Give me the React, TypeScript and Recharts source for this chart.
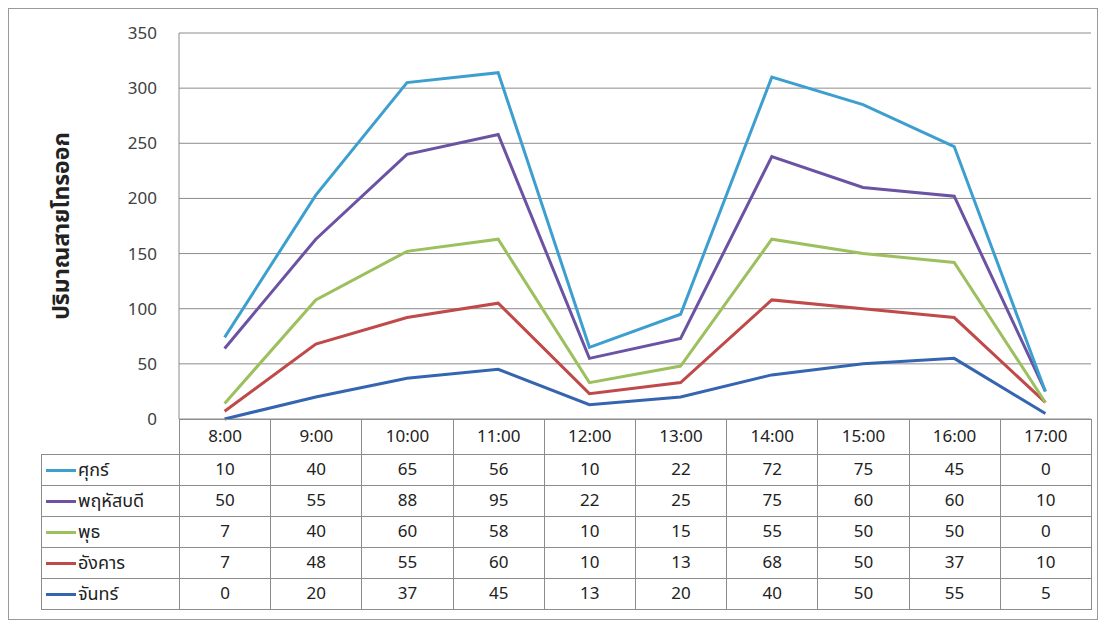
import { ComposedChart, Area, XAxis, YAxis, CartesianGrid, Label } from "recharts";

const hours = ["8:00", "9:00", "10:00", "11:00", "12:00", "13:00", "14:00", "15:00", "16:00", "17:00"];
const mon = [0, 20, 37, 45, 13, 20, 40, 50, 55, 5];
const tue = [7, 48, 55, 60, 10, 13, 68, 50, 37, 10];
const wed = [7, 40, 60, 58, 10, 15, 55, 50, 50, 0];
const thu = [50, 55, 88, 95, 22, 25, 75, 60, 60, 10];
const fri = [10, 40, 65, 56, 10, 22, 72, 75, 45, 0];
const yTicks = [0, 50, 100, 150, 200, 250, 300, 350];

// stacking order, bottom line first
const series = [
  { key: "mon", name: "จันทร์", color: "#3565b0", values: mon },
  { key: "tue", name: "อังคาร", color: "#c0494a", values: tue },
  { key: "wed", name: "พุธ", color: "#9cc05e", values: wed },
  { key: "thu", name: "พฤหัสบดี", color: "#6b52a3", values: thu },
  { key: "fri", name: "ศุกร์", color: "#3d9fd0", values: fri },
];

const data = hours.map((h, i) => {
  const row: Record<string, string | number> = { hour: h };
  series.forEach((s) => (row[s.key] = s.values[i]));
  return row;
});

const FONT = "'Noto Sans Thai', 'Noto Sans', 'Open Sans', sans-serif";
const W = 1090;
const PLOT_LEFT = 170;
const PLOT_RIGHT = 8;
const COL_W = (W - PLOT_LEFT - PLOT_RIGHT) / hours.length;
const GRID = "#8c8c8c";

const cell: React.CSSProperties = {
  border: `1px solid ${GRID}`,
  textAlign: "center",
  padding: 0,
  fontSize: 17,
  color: "#222",
};

export default function App() {
  const tableRows = [...series].reverse();
  return (
    <div
      style={{
        position: "relative",
        width: W,
        height: 612,
        border: "1px solid #9a9a9a",
        background: "#fff",
        fontFamily: FONT,
        boxSizing: "border-box",
      }}
    >
      <ComposedChart
        width={W}
        height={430}
        data={data}
        margin={{ top: 24, right: PLOT_RIGHT, bottom: 20, left: 0 }}
      >
        <CartesianGrid vertical={false} stroke={GRID} />
        <XAxis dataKey="hour" scale="band" hide />
        <YAxis
          width={PLOT_LEFT}
          domain={[0, 350]}
          ticks={yTicks}
          interval={0}
          tickLine={false}
          tickSize={0}
          tickMargin={22}
          axisLine={{ stroke: GRID }}
          tick={{ fontSize: 17, fill: "#404040", fontFamily: FONT }}
        >
          <Label
            value="ปริมาณสายโทรออก"
            angle={-90}
            position="insideLeft"
            offset={52}
            style={{ fontSize: 23, fontWeight: 700, fill: "#222", fontFamily: FONT, textAnchor: "middle" }}
          />
        </YAxis>
        {series.map((s) => (
          <Area
            key={s.key}
            dataKey={s.key}
            name={s.name}
            stackId="a"
            type="linear"
            stroke={s.color}
            strokeWidth={3}
            fill="none"
            fillOpacity={0}
            dot={false}
            activeDot={false}
            isAnimationActive={false}
          />
        ))}
      </ComposedChart>
      <table
        style={{
          position: "absolute",
          top: 410,
          left: 32,
          borderCollapse: "collapse",
          tableLayout: "fixed",
          fontFamily: FONT,
        }}
      >
        <colgroup>
          <col style={{ width: PLOT_LEFT - 32 }} />
          {hours.map((h) => (
            <col key={h} style={{ width: COL_W }} />
          ))}
        </colgroup>
        <tbody>
          <tr style={{ height: 35 }}>
            <td style={{ border: "none" }} />
            {hours.map((h) => (
              <td key={h} style={cell}>
                {h}
              </td>
            ))}
          </tr>
          {tableRows.map((s) => (
            <tr key={s.key} style={{ height: 31 }}>
              <td style={{ ...cell, textAlign: "left", fontSize: 18 }}>
                <span
                  style={{
                    display: "inline-block",
                    width: 30,
                    height: 3,
                    background: s.color,
                    verticalAlign: "middle",
                    marginLeft: 4,
                    marginRight: 2,
                  }}
                />
                {s.name}
              </td>
              {s.values.map((v, i) => (
                <td key={i} style={cell}>
                  {v}
                </td>
              ))}
            </tr>
          ))}
        </tbody>
      </table>
    </div>
  );
}
